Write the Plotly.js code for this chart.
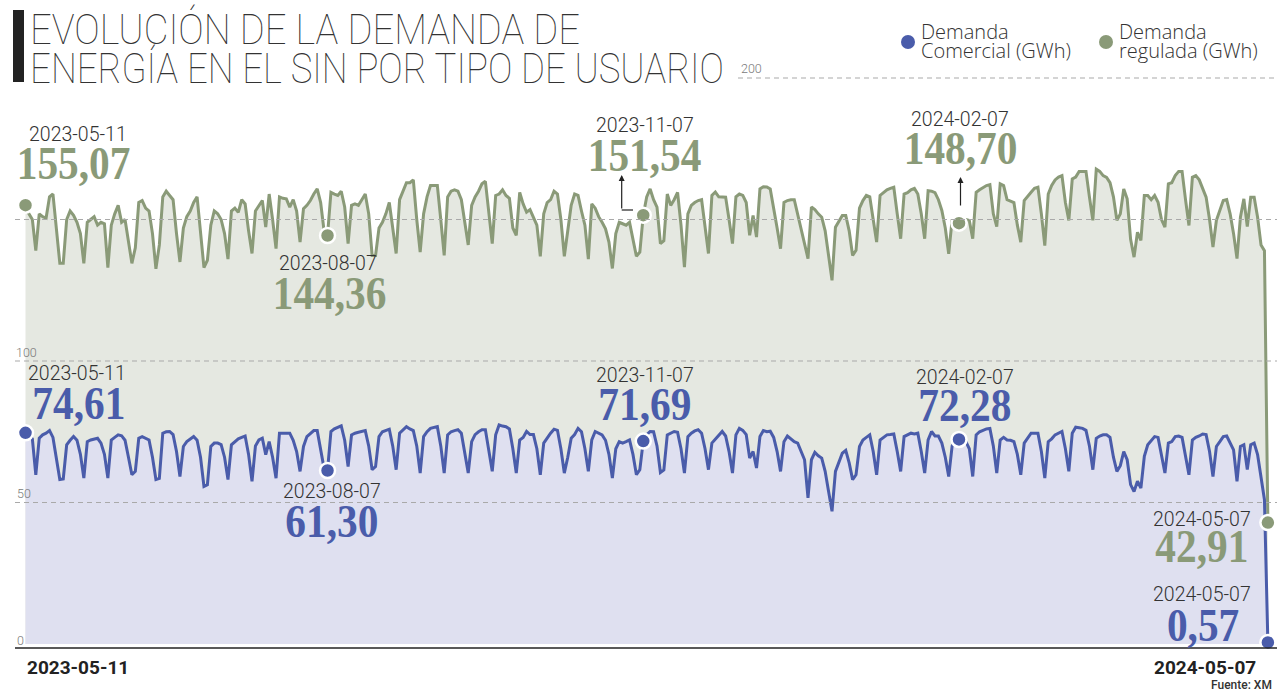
<!DOCTYPE html>
<html>
<head>
<meta charset="utf-8">
<script src="https://cdn.plot.ly/plotly-3.0.1.min.js"></script>
<style>
  html, body { margin: 0; padding: 0; background: #ffffff; }
  #chart { width: 1277px; height: 692px; }
</style>
</head>
<body>
<div id="chart"></div>
<script>
// ---------------- DATA (daily) ----------------
const startDate = '2023-05-11';

// Demanda regulada (GWh), one row per week starting Thursday 2023-05-11
const demandaRegulada = [
  155.07, 152, 150, 139, 152, 151, 150.5,
  158, 159, 147, 134.5, 134.5, 150, 153,
  151.5, 149, 145, 134.5, 149, 150, 151,
  148, 149, 148.5, 133, 148, 152, 155,
  149, 150, 143, 134.5, 140, 156, 156.7,
  154, 153, 145, 132.6, 141, 158, 160,
  158.5, 157, 145, 135, 147, 151, 153,
  156, 158, 146, 133, 135.6, 148, 153,
  152, 150, 145, 136, 153, 154, 152.5,
  157, 155.5, 146, 138, 153, 155, 156.7,
  147.3, 159, 150, 139.7, 158, 157.5, 157.3,
  154.4, 157, 153, 142, 153.8, 155, 156.7,
  159, 160.8, 156, 146, 144.36, 159.6, 159,
  158.5, 160, 154.4, 141.5, 155, 155.5, 155,
  157, 159, 152, 137.3, 137.3, 147, 149,
  152, 156, 147, 138, 157, 160, 163,
  163, 164, 150, 138.5, 152, 158, 162,
  162, 162, 150, 137.3, 158, 160, 160.5,
  160, 157, 148, 141, 155, 158, 160,
  162.6, 163.5, 152, 141.5, 158.5, 159, 160.5,
  158.5, 157.5, 147, 144.4, 159.6, 155.5, 152.6,
  153.5, 151, 148, 137, 152, 156, 157,
  160, 159, 150, 137, 146, 155, 159,
  158.5, 153, 148, 136, 155.5, 154, 151,
  149, 146.7, 142, 132.7, 145, 149, 148.5,
  148, 149, 143, 137, 138.5, 151.54, 158,
  160.8, 157, 154.4, 141.5, 142.5, 159, 155,
  157, 159.6, 148, 133.2, 152, 155, 156,
  156.7, 157, 148, 138, 158.5, 159.7, 158,
  158, 157.9, 150, 141.5, 158, 159, 158.5,
  156, 144.4, 151.4, 143.8, 160.8, 161.6, 161.5,
  160.8, 154.4, 147, 139.7, 156, 156.7, 157,
  157, 152, 147.3, 142, 136.2, 154.4, 153.5,
  152, 150.8, 146, 138, 128.5, 147.3, 149.5,
  151.4, 151.4, 146, 137.3, 139.1, 154, 156.7,
  158.5, 158, 150, 142, 158.5, 159.5, 160.5,
  161, 161.4, 152, 143.2, 159, 159.5, 160.5,
  161, 159, 152, 143.2, 160.2, 160, 159.5,
  157, 153.2, 147, 137.9, 150, 148, 148.70,
  150, 150, 149.7, 143.2, 159.6, 160.5, 161.4,
  162, 162.3, 152, 147.5, 162.6, 162, 157,
  156.5, 156, 148, 142, 156.7, 158, 159.6,
  161, 161.4, 152, 140.8, 159, 162, 164,
  165, 165.5, 156, 149.7, 164.3, 165, 167,
  167, 167, 158, 149.7, 167.8, 167, 165.5,
  164.9, 163, 158, 149.7, 152, 160.8, 157.3,
  143, 136.7, 145.5, 142.6, 158.5, 158.5, 157,
  158.5, 156.1, 150, 147.3, 162.6, 163, 165.5,
  167, 167, 157, 147.9, 164.9, 165.5, 164,
  161, 157.9, 150, 140.3, 149.7, 153, 156.7,
  157, 152, 145, 136.2, 150.8, 157.3, 147.5,
  157.9, 157.9, 150.8, 141, 139, 42.91
];

// Demanda comercial (GWh)
const demandaComercial = [
  74.61, 74, 72.5, 59.8, 72.7, 73.9, 74.5,
  75.4, 73, 66, 58.1, 58.3, 70.4, 72,
  73.3, 72, 67, 58.6, 71.5, 72.1, 72.3,
  72.7, 71, 67, 58.6, 72.1, 73, 73.9,
  73.6, 72, 66, 59.8, 61, 72.7, 73.3,
  72.8, 72.1, 66, 58.1, 58.5, 74.5, 75,
  75.1, 74, 68, 59.2, 69.8, 71.5, 72.5,
  73.3, 72, 66, 55.7, 56.3, 69.8, 71,
  71, 70.5, 66, 58.1, 70.4, 71.5, 72.5,
  73, 73.5, 67, 57.5, 70, 72.1, 72.7,
  66.9, 71.5, 66, 58.6, 74.5, 74.5, 74.5,
  74.5, 72, 68, 61, 69.8, 73.3, 74.5,
  75.4, 75.4, 68, 62, 61.30, 75.1, 76,
  76.5, 77.1, 72, 62.7, 73.9, 74.5, 74.8,
  75.2, 75.4, 70, 61.6, 62.7, 73.3, 75,
  75.5, 75.9, 70, 61.6, 74.5, 75.8, 76.8,
  76, 75.4, 70, 60.4, 73.3, 75, 76.2,
  76.5, 76.8, 70, 60.4, 73.9, 75, 75.4,
  75.7, 74.5, 68, 60.4, 71.5, 74, 75,
  75.7, 75.7, 69, 61, 73.9, 77.4, 77,
  76.8, 76, 69, 60.4, 72.1, 73, 75.1,
  74, 74, 69, 59.8, 71, 73, 74.5,
  75.9, 75.5, 69, 60.4, 66, 72.7, 74,
  76.2, 75, 69, 61, 72.1, 75.1, 74.5,
  73.9, 72, 67, 58.6, 69, 71.5, 71,
  71.5, 72.1, 67, 59.8, 61.6, 71.69, 74,
  75.1, 75, 70, 60.6, 61.5, 73.9, 74.5,
  75.1, 74.8, 69, 60.4, 73.3, 74.5, 75.3,
  75.7, 74.5, 69, 61.6, 71, 72.5, 73.9,
  75.1, 73.5, 68, 60.4, 73.9, 76.2, 75.5,
  74, 65.7, 68, 62.2, 73.3, 75.4, 75,
  75.2, 73, 68, 61, 71.5, 73.5, 72.5,
  71.5, 71, 68, 65.1, 51.6, 65.1, 67.7,
  66.5, 65.7, 61, 53.9, 46.9, 61, 64.5,
  67.4, 68.4, 64, 58.1, 59.8, 69.8, 72.1,
  73, 73.9, 68, 59.8, 72.1, 73, 73.9,
  74, 74.2, 68, 61, 73.3, 74, 74.5,
  74.2, 74.5, 68, 60.4, 72.1, 75.1, 73.5,
  73.5, 71, 66, 59.2, 70, 72, 72.28,
  72, 71.5, 69, 59.2, 73.9, 75, 75.5,
  76, 76.2, 70, 60.4, 72.1, 73, 72.1,
  72, 71.5, 67, 59.8, 71, 73, 74.5,
  74.5, 74.5, 68, 58.6, 71.5, 72.5, 73.9,
  74.5, 75.1, 69, 61, 74.5, 76.6, 76.4,
  76.2, 75.5, 70, 61.6, 72.7, 73.5, 73.9,
  73.9, 73, 66, 61, 63, 68, 65.1,
  56.3, 53.9, 57.5, 55.1, 66.3, 70.4, 72,
  73.3, 73, 67, 60.4, 71, 71.5, 73.3,
  73.5, 73, 67, 59.8, 72.1, 73, 73.5,
  74.2, 74, 68, 59.2, 69.8, 71.5, 73.3,
  73.5, 71, 68.6, 57.5, 69.8, 70.4, 61.6,
  70.4, 71, 66.9, 58, 51, 0.57
];

const highlightDates = ['2023-05-11', '2023-08-07', '2023-11-07', '2024-02-07', '2024-05-07'];
const yTicks = [0, 50, 100, 150, 200];
const yTickLabels = ['0', '50', '100', '', '200'];
const titleLines = ['EVOLUCIÓN DE LA DEMANDA DE', 'ENERGÍA EN EL SIN POR TIPO DE USUARIO'];
const legendLabels = [['Demanda', 'Comercial (GWh)'], ['Demanda', 'regulada (GWh)']];
const sourceText = 'Fuente: XM';

// ---------------- derived ----------------
const DAY = 864e5;
const t0 = Date.parse(startDate + 'T00:00:00Z');
const dates = demandaRegulada.map((_, i) => new Date(t0 + i * DAY).toISOString().slice(0, 10));
const hiIdx = highlightDates.map(d => dates.indexOf(d));
const fmt = v => v.toFixed(2).replace('.', ',');

// ---------------- style / layout ----------------
const W = 1277, H = 692;
const px = x => x / W;
const py = y => 1 - y / H;
const X0PX = 25.5, PX_PER_DAY = 3.432;
const Y0PX = 644, PX_PER_UNIT = 2.83;
const iso = ms => new Date(ms).toISOString().replace('T', ' ').replace('Z', '');
const xRange = [iso(t0 - X0PX / PX_PER_DAY * DAY), iso(t0 + (W - X0PX) / PX_PER_DAY * DAY)];
const yRange = [-(H - Y0PX) / PX_PER_UNIT, Y0PX / PX_PER_UNIT];

const GREEN = '#8a9a78', BLUE = '#4a5caa';
const GREEN_FILL = '#e5e8e1', BLUE_FILL = '#dfe0f0';

const traces = [
  { x: dates, y: demandaRegulada, type: 'scatter', mode: 'lines', fill: 'tozeroy',
    fillcolor: GREEN_FILL, line: { color: GREEN, width: 3 }, name: 'Demanda regulada (GWh)', hoverinfo: 'skip' },
  { x: dates, y: demandaComercial, type: 'scatter', mode: 'lines', fill: 'tozeroy',
    fillcolor: BLUE_FILL, line: { color: BLUE, width: 3 }, name: 'Demanda Comercial (GWh)', hoverinfo: 'skip' },
  { x: hiIdx.map(i => dates[i]), y: hiIdx.map(i => demandaRegulada[i]), type: 'scatter', mode: 'markers',
    marker: { color: GREEN, size: 15, line: { color: '#ffffff', width: 2.5 } }, hoverinfo: 'skip', cliponaxis: false },
  { x: hiIdx.map(i => dates[i]), y: hiIdx.map(i => demandaComercial[i]), type: 'scatter', mode: 'markers',
    marker: { color: BLUE, size: 15, line: { color: '#ffffff', width: 2.5 } }, hoverinfo: 'skip', cliponaxis: false }
];

// ---------------- shapes ----------------
const shapes = [];
shapes.push({ type: 'rect', xref: 'paper', yref: 'paper', x0: px(13), x1: px(24), y0: py(82), y1: py(10),
  fillcolor: '#222222', line: { width: 0 } });
yTicks.forEach(v => {
  if (v === 0) return;
  shapes.push({ type: 'line', xref: 'paper', yref: 'y', x0: px(v === 200 ? 738 : 15), x1: 1, y0: v, y1: v,
    line: { color: '#a9a9a9', width: 1, dash: '5px,4px' }, layer: 'above' });
});
shapes.push({ type: 'line', xref: 'paper', yref: 'paper', x0: px(15), x1: 1, y0: py(648), y1: py(648),
  line: { color: '#222222', width: 1.5 }, layer: 'above' });
// legend dots
shapes.push({ type: 'circle', xref: 'paper', yref: 'paper', x0: px(901), x1: px(915), y0: py(49), y1: py(35),
  fillcolor: BLUE, line: { width: 0 } });
shapes.push({ type: 'circle', xref: 'paper', yref: 'paper', x0: px(1099), x1: px(1113), y0: py(49), y1: py(35),
  fillcolor: GREEN, line: { width: 0 } });
// connector of the 2023-11-07 arrow
shapes.push({ type: 'line', xref: 'paper', yref: 'paper', x0: px(621.7), x1: px(633), y0: py(210), y1: py(210),
  line: { color: '#222222', width: 1.2 } });

// ---------------- annotations ----------------
const annotations = [];
const squeeze = [];
function addAnn(a, sq) { annotations.push(Object.assign({ xref: 'paper', yref: 'paper', showarrow: false }, a)); squeeze.push(sq || null); }

const titleFont = { family: 'Roboto, "Liberation Sans Narrow", sans-serif', weight: 100, size: 43, color: '#333333' };
addAnn({ x: px(28), y: py(29), xanchor: 'left', yanchor: 'middle', text: titleLines[0], font: titleFont }, { width: 550, anchor: 'left' });
addAnn({ x: px(28), y: py(67.5), xanchor: 'left', yanchor: 'middle', text: titleLines[1], font: titleFont }, { width: 694, anchor: 'left' });

const legFont = { family: '"Open Sans", Roboto, sans-serif', weight: 300, size: 20, color: '#333333' };
[[919, legendLabels[0]], [1117, legendLabels[1]]].forEach(([lx, lines]) => {
  addAnn({ x: px(lx), y: py(32), xanchor: 'left', yanchor: 'middle', text: lines[0], font: legFont });
  addAnn({ x: px(lx), y: py(50.5), xanchor: 'left', yanchor: 'middle', text: lines[1], font: legFont });
});

const tickFont = { family: 'Roboto, sans-serif', weight: 300, size: 12.5, color: '#7a7a7a' };
const tickPos = { 0: [20.5, 640], 50: [24, 494], 100: [26, 352], 200: [752, 69] };
yTicks.forEach((v, i) => {
  if (!yTickLabels[i]) return;
  addAnn({ x: px(tickPos[v][0]), y: py(tickPos[v][1]), xanchor: 'center', yanchor: 'middle', text: yTickLabels[i], font: tickFont });
});

const dateFont = { family: 'Roboto, sans-serif', weight: 300, size: 19.5, color: '#333333' };
const numFont = c => ({ family: '"Liberation Serif", "DejaVu Serif", serif', weight: 700, size: 47, color: c });
// label centre positions (pixels) for each highlighted date: [dateX, dateY, valueX, valueY]
const greenLabelPos = [[78, 134, 73.5, 163], [328, 264, 329, 293], [645, 125, 644, 155], [960, 119, 960, 148], [1202, 519, 1202, 546]];
const blueLabelPos  = [[77, 373, 78.5, 403], [332, 491, 332, 521], [645, 376, 645, 404], [965, 377, 965, 405], [1202, 594, 1203, 625]];
hiIdx.forEach((idx, k) => {
  const g = greenLabelPos[k], b = blueLabelPos[k];
  addAnn({ x: px(g[0]), y: py(g[1]), xanchor: 'center', yanchor: 'middle', text: dates[idx], font: dateFont });
  addAnn({ x: px(g[2]), y: py(g[3]), xanchor: 'center', yanchor: 'middle', text: fmt(demandaRegulada[idx]), font: numFont(GREEN) }, { scale: 0.88, anchor: 'center' });
  addAnn({ x: px(b[0]), y: py(b[1]), xanchor: 'center', yanchor: 'middle', text: dates[idx], font: dateFont });
  addAnn({ x: px(b[2]), y: py(b[3]), xanchor: 'center', yanchor: 'middle', text: fmt(demandaComercial[idx]), font: numFont(BLUE) }, { scale: 0.88, anchor: 'center' });
});

// x-axis end labels
const axFont = { family: 'Roboto, sans-serif', weight: 700, size: 19, color: '#222222' };
addAnn({ x: px(77.5), y: py(667), xanchor: 'center', yanchor: 'middle', text: dates[0], font: axFont });
addAnn({ x: px(1205), y: py(667), xanchor: 'center', yanchor: 'middle', text: dates[dates.length - 1], font: axFont });

addAnn({ x: px(1274), y: py(685), xanchor: 'right', yanchor: 'middle', text: sourceText,
  font: { family: 'Roboto, sans-serif', weight: 500, size: 12, color: '#333333' } });

// arrows
addAnn({ x: px(621.7), y: py(175), ax: 0, ay: 35, showarrow: true, arrowhead: 2, arrowsize: 1, arrowwidth: 1.2, arrowcolor: '#222222', text: '', standoff: 0 });
addAnn({ x: px(960.5), y: py(177), ax: 0, ay: 30, showarrow: true, arrowhead: 2, arrowsize: 1, arrowwidth: 1.2, arrowcolor: '#222222', text: '', standoff: 0 });

const layout = {
  width: W, height: H,
  margin: { l: 0, r: 0, t: 0, b: 0, pad: 0 },
  paper_bgcolor: '#ffffff', plot_bgcolor: 'rgba(0,0,0,0)',
  showlegend: false,
  xaxis: { type: 'date', range: xRange, showgrid: false, zeroline: false, showticklabels: false, showline: false, ticks: '', fixedrange: true },
  yaxis: { range: yRange, showgrid: false, zeroline: false, showticklabels: false, showline: false, ticks: '', fixedrange: true },
  shapes: shapes,
  annotations: annotations
};

Plotly.newPlot('chart', traces, layout, { staticPlot: true, displayModeBar: false }).then(gd => {
  gd.querySelectorAll('g.annotation').forEach(g => {
    const i = +g.getAttribute('data-index');
    const sq = squeeze[i];
    if (!sq) return;
    const t = g.querySelector('text.annotation-text');
    if (!t) return;
    const bb = t.getBBox();
    if (!bb.width) return;
    const s = sq.width ? sq.width / bb.width : sq.scale;
    const ax = sq.anchor === 'left' ? bb.x : bb.x + bb.width / 2;
    t.setAttribute('transform', 'translate(' + ax + ',0) scale(' + s + ',1) translate(' + (-ax) + ',0)');
  });
});
</script>
</body>
</html>
